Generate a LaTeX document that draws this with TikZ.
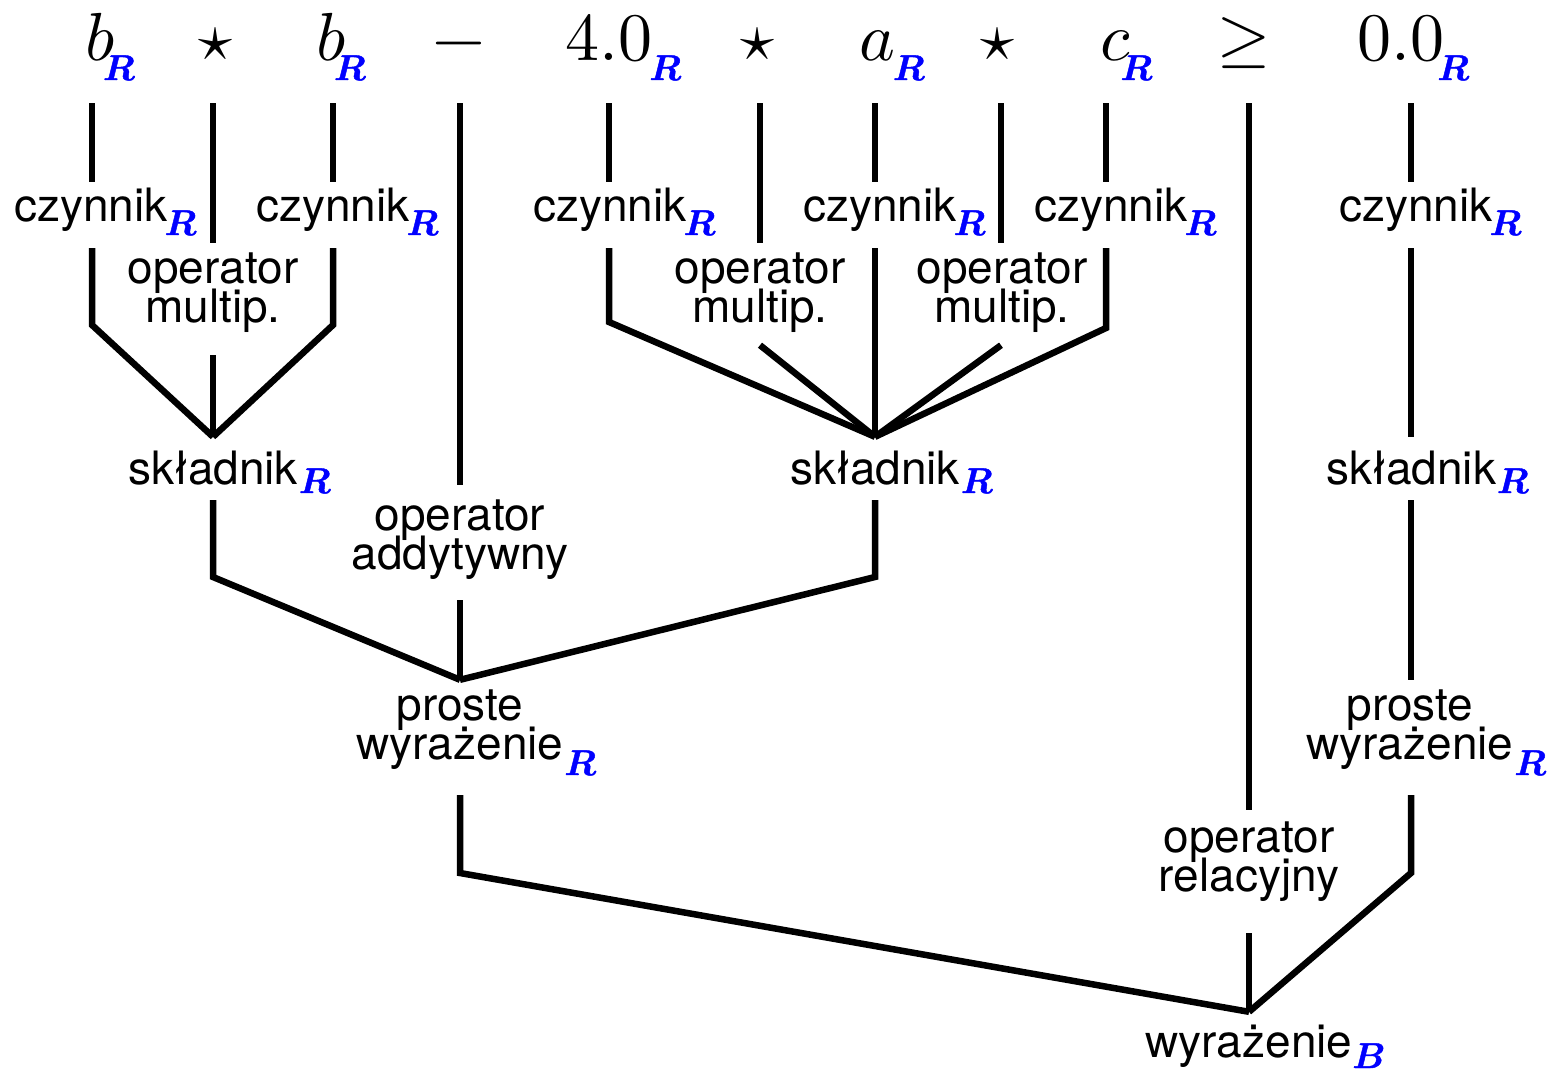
\documentclass[tikz,border=0pt]{standalone}
\usepackage{fontspec}
\usepackage{unicode-math}
\setmainfont{TeX Gyre Heros}
\setmathfont{Latin Modern Math}
\newfontfamily\subfont{Latin Modern Math}[FakeBold=1.2]
\newcommand\sR[2][3pt]{\rlap{\kern#1\raisebox{-#2}{\color{blue}\fontsize{36}{36}\subfont 𝑹}}}
\newcommand\sB[2][3pt]{\rlap{\kern#1\raisebox{-#2}{\color{blue}\fontsize{36}{36}\subfont 𝑩}}}
\newcommand\twoline[2]{\vtop{\baselineskip=39pt\lineskiplimit=-100pt\halign{\hfil##\hfil\cr#1\cr#2\cr}}}
\tikzset{
  term/.style={anchor=base, inner sep=0pt, text depth=43pt, font=\fontsize{68}{68}\selectfont},
  lab/.style={anchor=base, inner sep=0pt, font=\fontsize{46}{39}\selectfont},
  edge/.style={line width=6.5pt, line cap=butt, line join=miter, black}
}
\begin{document}
\begin{tikzpicture}[x=1pt,y=-1pt]
\useasboundingbox (0,0) rectangle (1553,1072);
% columns
\coordinate (xA) at (92,0);
\coordinate (xS1) at (213,0);
\coordinate (xB) at (333,0);
\coordinate (xM) at (460,0);
\coordinate (xC) at (609,0);
\coordinate (xS2) at (760,0);
\coordinate (xD) at (875,0);
\coordinate (xS3) at (1001,0);
\coordinate (xE) at (1106,0);
\coordinate (xG) at (1249,0);
\coordinate (xF) at (1411,0);
% terminals
\node[term] (tA) at (101,60) {$b$\sR[-13pt]{20pt}};
\node[term] (tS1) at (216,60) {$\star$};
\node[term] (tB) at (332,60) {$b$\sR[-13pt]{20pt}};
\node[term] (tM) at (459,60) {$-$};
\node[term] (tC) at (609,60) {$4.0$\sR[-3pt]{20pt}};
\node[term] (tS2) at (758,60) {$\star$};
\node[term] (tD) at (877,60) {$a$\sR[-2pt]{20pt}};
\node[term] (tS3) at (998,60) {$\star$};
\node[term] (tE) at (1116,60) {$c$\sR[-11pt]{20pt}};
\node[term] (tG) at (1244,60) {$\geq$};
\node[term] (tF) at (1401,60) {$0.0$\sR[-7pt]{20pt}};
% czynnik
\tikzset{cz/.style={lab, text height=39pt, text depth=27pt}}
\node[cz] (czA) at (91,221) {czynnik\sR[-3pt]{14pt}};
\node[cz] (czB) at (333,221) {czynnik\sR[-3pt]{14pt}};
\node[cz] (czC) at (610,221) {czynnik\sR[-3pt]{14pt}};
\node[cz] (czD) at (880,221) {czynnik\sR[-3pt]{14pt}};
\node[cz] (czE) at (1111,221) {czynnik\sR[-3pt]{14pt}};
\node[cz] (czF) at (1416,221) {czynnik\sR[-3pt]{14pt}};
% operator multip.
\node[lab, text height=40pt, text depth=72pt] (omA) at (213,283) {\twoline{operator}{multip.}};
\node[lab, text height=40pt, text depth=62pt] (omB) at (760,283) {\twoline{operator}{multip.}};
\node[lab, text height=40pt, text depth=62pt] (omC) at (1002,283) {\twoline{operator}{multip.}};
% skladnik
\tikzset{sk/.style={lab, text height=47pt, text depth=16pt}}
\node[sk] (skA) at (213,484) {składnik\sR[1pt]{9pt}};
\node[sk] (skB) at (875,484) {składnik\sR[1pt]{9pt}};
\node[sk] (skC) at (1411,484) {składnik\sR[1pt]{9pt}};
% operator addytywny
\node[lab, text height=45pt, text depth=70pt] (oaM) at (460,530) {\twoline{operator}{addytywny}};
% proste wyrazenie
\node[lab, text height=40pt, text depth=75pt] (pwA) at (460,720) {\twoline{proste}{wyrażenie\sR[1pt]{16pt}}};
\node[lab, text height=40pt, text depth=75pt] (pwB) at (1410,720) {\twoline{proste}{wyrażenie\sR[1pt]{16pt}}};
% operator relacyjny
\node[lab, text height=42pt, text depth=81pt] (orG) at (1249,852) {\twoline{operator}{relacyjny}};
% root
\node[lab, text height=45pt, text depth=12pt] (wB) at (1249,1057) {wyrażenie\sB[0pt]{11pt}};
% edges: group A
\draw[edge] (xA |- tA.south) -- (xA |- czA.north);
\draw[edge] (xA |- czA.south) -- (92,325) -- (skA.north);
\draw[edge] (xS1 |- tS1.south) -- (xS1 |- omA.north);
\draw[edge] (xS1 |- omA.south) -- (skA.north);
\draw[edge] (xB |- tB.south) -- (xB |- czB.north);
\draw[edge] (xB |- czB.south) -- (333,325) -- (skA.north);
\draw[edge] (xM |- tM.south) -- (xM |- oaM.north);
% group B
\draw[edge] (xC |- tC.south) -- (xC |- czC.north);
\draw[edge] (xC |- czC.south) -- (609,322) -- (skB.north);
\draw[edge] (xS2 |- tS2.south) -- (xS2 |- omB.north);
\draw[edge] (xS2 |- omB.south) -- (skB.north);
\draw[edge] (xD |- tD.south) -- (xD |- czD.north);
\draw[edge] (xD |- czD.south) -- (skB.north);
\draw[edge] (xS3 |- tS3.south) -- (xS3 |- omC.north);
\draw[edge] (xS3 |- omC.south) -- (skB.north);
\draw[edge] (xE |- tE.south) -- (xE |- czE.north);
\draw[edge] (xE |- czE.south) -- (1106,328) -- (skB.north);
% column F
\draw[edge] (xF |- tF.south) -- (xF |- czF.north);
\draw[edge] (xF |- czF.south) -- (xF |- skC.north);
\draw[edge] (xF |- skC.south) -- (xF |- pwB.north);
% level 3
\draw[edge] (skA.south) -- (213,577) -- (pwA.north);
\draw[edge] (skB.south) -- (875,577) -- (pwA.north);
\draw[edge] (oaM.south) -- (pwA.north);
% level 4
\draw[edge] (pwA.south) -- (460,873) -- (wB.north);
\draw[edge] (xG |- tG.south) -- (xG |- orG.north);
\draw[edge] (orG.south) -- (wB.north);
\draw[edge] (xF |- pwB.south) -- (1411,873) -- (wB.north);
\end{tikzpicture}
\end{document}
